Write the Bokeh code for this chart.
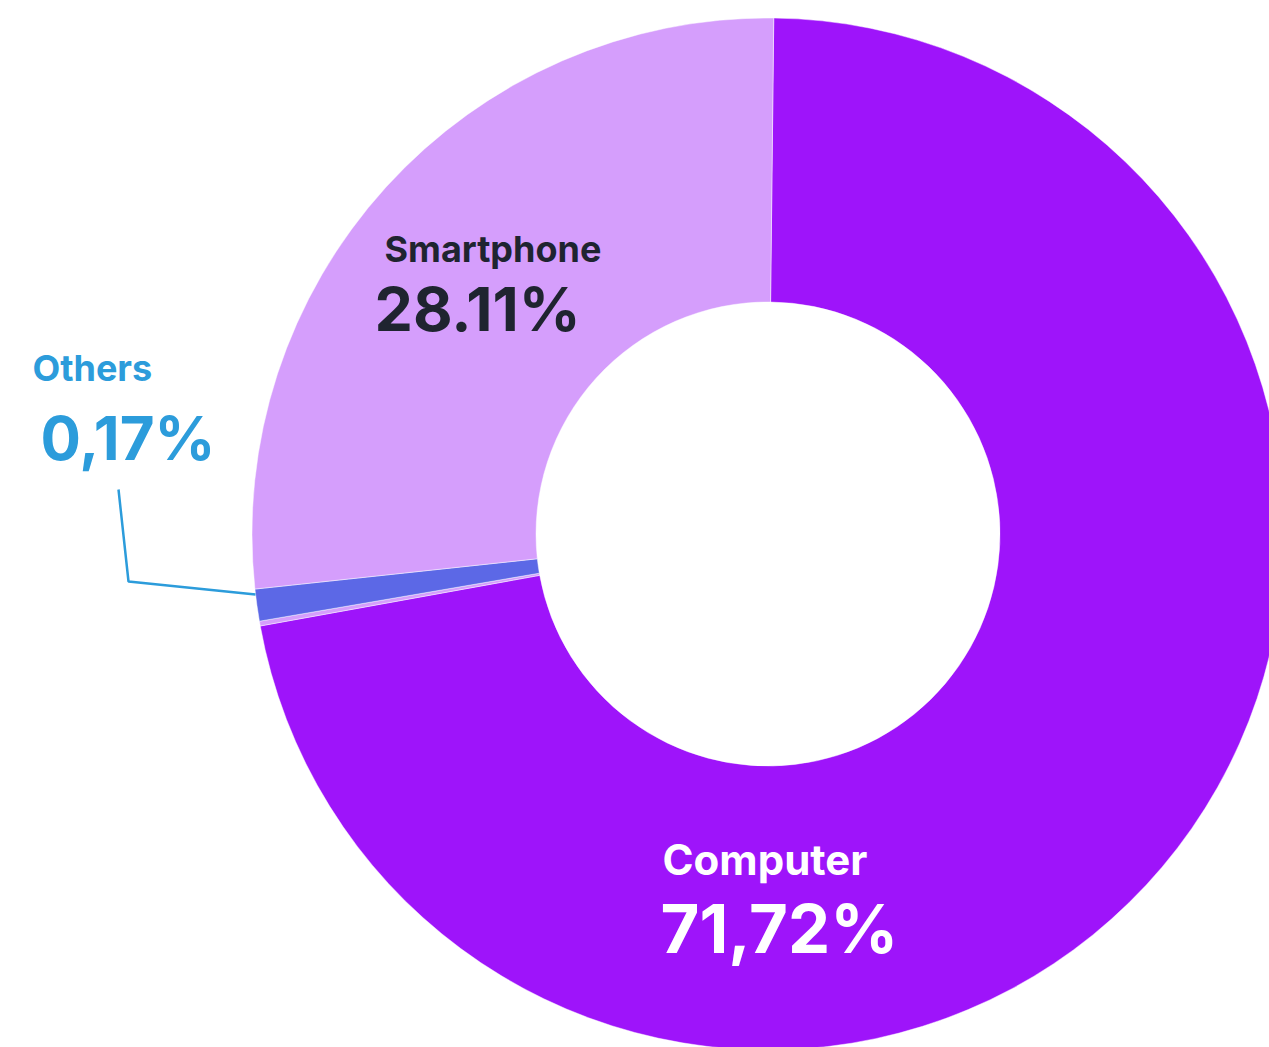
import math
from bokeh.plotting import figure
from bokeh.models import Range1d, ColumnDataSource
from bokeh.core.properties import value
from bokeh.embed import file_html
from bokeh.resources import INLINE

# Slices in drawing order (clockwise from the top), shares as drawn in the picture (%)
slice_names = ["Computer", "Separator", "Others", "Smartphone"]
slice_shares = [71.97, 0.15, 1.00, 26.88]
slice_colors = ["#9E14FA", "#D59EFC", "#5C68E6", "#D59EFC"]

# Label texts as printed on the chart
label_names = ["Computer", "Smartphone", "Others"]
label_values = ["71,72%", "28.11%", "0,17%"]

W, H = 1269, 1047
p = figure(width=W, height=H, output_backend="svg", toolbar_location=None,
           x_range=Range1d(0, W), y_range=Range1d(1047 - H, 1047),
           x_axis_location=None, y_axis_location=None, min_border=0,
           outline_line_color=None, background_fill_color="white")
p.grid.visible = False

cx, cy = 767.5, 1047 - 533.5
r_in, r_out = 232, 516
start_offset = 0.64  # degrees clockwise from 12 o'clock

total = sum(slice_shares)
starts, ends = [], []
acc = start_offset
for s in slice_shares:
    a0 = acc
    a1 = acc + s / total * 360.0
    starts.append(math.radians(90 - a0))
    ends.append(math.radians(90 - a1))
    acc = a1

src = ColumnDataSource(dict(x=[cx] * 4, y=[cy] * 4, start=starts, end=ends,
                            color=slice_colors, name=slice_names))
p.annular_wedge(x="x", y="y", inner_radius=r_in, outer_radius=r_out,
                start_angle="start", end_angle="end", direction="clock",
                fill_color="color", line_color="white", line_alpha=0.45,
                line_width=1, source=src)

# leader line for Others
p.line(x=[118, 128, 255], y=[1047 - 489, 1047 - 581, 1047 - 594],
       line_color="#2C9CDB", line_width=2.5)

font = value("Inter")
# Smartphone
p.text(x=[384], y=[1047 - 248], text=[label_names[1]], text_font=font,
       text_font_size="36px", text_font_style="bold", text_color="#1F2430",
       text_baseline="alphabetic", text_align="left")
p.text(x=[374], y=[1047 - 308], text=[label_values[1]], text_font=font,
       text_font_size="61px", text_font_style="bold", text_color="#1F2430",
       text_baseline="alphabetic", text_align="left")
# Others
p.text(x=[32], y=[1047 - 367], text=[label_names[2]], text_font=font,
       text_font_size="36px", text_font_style="bold", text_color="#2C9CDB",
       text_baseline="alphabetic", text_align="left")
p.text(x=[40], y=[1047 - 437], text=[label_values[2]], text_font=font,
       text_font_size="60px", text_font_style="bold", text_color="#2C9CDB",
       text_baseline="alphabetic", text_align="left")
# Computer
p.text(x=[662], y=[1047 - 859], text=[label_names[0]], text_font=font,
       text_font_size="42px", text_font_style="bold", text_color="white",
       text_baseline="alphabetic", text_align="left")
p.text(x=[660], y=[1047 - 928], text=[label_values[0]], text_font=font,
       text_font_size="67px", text_font_style="bold", text_color="white",
       text_baseline="alphabetic", text_align="left")

open("out.html", "w").write(file_html(p, INLINE))
